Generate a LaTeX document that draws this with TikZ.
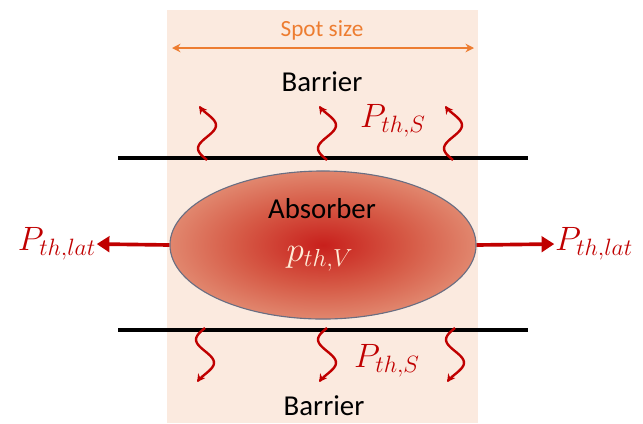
\RequirePackage{fix-cm}
\documentclass[tikz,border=0pt]{standalone}
\usepackage{fontspec}
\setmainfont{Carlito}
\usepackage{tikz}
\usetikzlibrary{calc}
\usetikzlibrary{arrows.meta}
\usetikzlibrary{shapes.geometric}
\usetikzlibrary{positioning}

\definecolor{spotbg}{RGB}{251,234,223}
\definecolor{spotorange}{RGB}{237,125,49}
\definecolor{heatred}{RGB}{192,0,0}
\definecolor{absborder}{RGB}{105,110,130}
\definecolor{pcream}{RGB}{255,236,215}
\definecolor{absc0}{RGB}{200,32,28}
\definecolor{absc1}{RGB}{214,90,70}
\definecolor{absc2}{RGB}{230,155,128}
\definecolor{absc3}{RGB}{240,194,170}
\pgfdeclareradialshading{absshade}{\pgfpoint{0bp}{0bp}}{%
  color(0bp)=(absc0);
  color(14bp)=(absc1);
  color(30bp)=(absc2);
  color(44bp)=(absc3);
  color(60bp)=(absc3)}
\tikzset{wave/.style={heatred,line width=1.7pt,line join=round,-{Stealth[length=5.5pt,width=6pt]}}}
\tikzset{lat/.style={heatred,line width=2.6pt,-{Triangle[length=9pt,width=11pt]}}}
\tikzset{plabel/.style={text=heatred,font=\fontsize{24}{26}\selectfont}}

\begin{document}
\begin{tikzpicture}[x=0.025cm,y=-0.025cm]
\useasboundingbox (0,0) rectangle (643,423);
\fill[spotbg] (167,10) rectangle (478,423);
% spot size
\node[text=spotorange,font=\fontsize{16.5}{18}\selectfont] (spot) at (322,30) {Spot size};
\coordinate (sl) at (172,48);
\coordinate (sr) at (474,48);
\draw[spotorange,line width=1.4pt,{Stealth[length=6pt,width=6pt]}-{Stealth[length=6pt,width=6pt]}] (sl) -- (sr);
\node[font=\fontsize{20.5}{22}\selectfont] (bt) at (322,82) {Barrier};
\node[font=\fontsize{20.5}{22}\selectfont] (bb) at (324,406) {Barrier};
% barrier lines
\coordinate (tl) at (118,158);
\coordinate (tr) at (528,158);
\coordinate (bl) at (118,330);
\coordinate (br) at (528,330);
\draw[line width=2.2pt] (tl) -- (tr);
\draw[line width=2.2pt] (bl) -- (br);
% absorber
\node[ellipse,draw=absborder,line width=0.8pt,shading=absshade,
  minimum width=7.65cm,minimum height=3.7cm] (abs) at (323,245) {};
\node[font=\fontsize{20.5}{22}\selectfont] (abst) at (322,209) {Absorber};
\node[text=pcream,font=\fontsize{25}{27}\selectfont] (pv) at (320,259) {$p_{th,V}$};
% lateral flow
\node[plabel] (latl) at (57,244) {$P_{th,lat}$};
\node[plabel] (latr) at (594,244) {$P_{th,lat}$};
\draw[lat] (abs.west) -- ([xshift=-3pt]latl.east);
\draw[lat] (abs.east) -- ([xshift=3pt]latr.west);
% flow through the barriers
\foreach \i/\xs in {1/207,2/327,3/453}{
  \coordinate (ws\i) at (\xs,160);
  \draw[wave,shift={(ws\i)}] plot[domain=0:1,samples=30,smooth] ({-9*sin(420*\x)},{-54*\x});
}
\foreach \i/\xs in {1/205,2/327,3/455}{
  \coordinate (vs\i) at (\xs,328);
  \draw[wave,shift={(vs\i)}] plot[domain=0:1,samples=30,smooth] ({-9*sin(420*\x)},{54*\x});
}
\node[plabel] (pst) at (393,121) {$P_{th,S}$};
\node[plabel] (psb) at (387,361) {$P_{th,S}$};
\end{tikzpicture}
\end{document}
